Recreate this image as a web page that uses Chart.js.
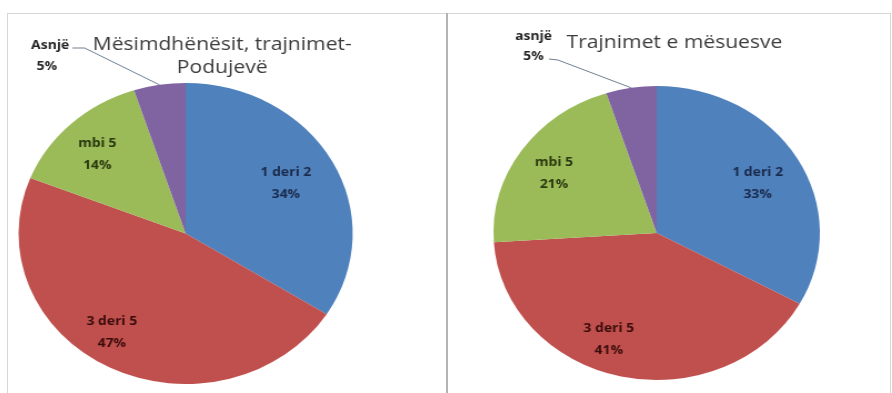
<!DOCTYPE html>
<html>
<head>
<meta charset="utf-8">
<script src="https://cdn.jsdelivr.net/npm/chart.js@4.4.1/dist/chart.umd.min.js"></script>
<style>
body{margin:0;background:#fff;width:892px;height:393px;overflow:hidden;position:relative}
.frame{position:absolute;left:7px;top:13px;width:884px;height:390px;border:1px solid #d6d6d6;box-sizing:border-box}
.divider{position:absolute;left:446px;top:13px;width:2px;height:380px;background:#b4b4b4}
.wrap{position:absolute;top:0;transform-origin:0 0;transform:scaleX(1.11)}
</style>
</head>
<body>
<div class="frame"></div>
<div class="divider"></div>
<div class="wrap" style="left:8px"><canvas id="c1" width="395" height="393"></canvas></div>
<div class="wrap" style="left:448px"><canvas id="c2" width="400" height="393"></canvas></div>
<script>
// data
const labels1 = ['1 deri 2', '3 deri 5', 'mbi 5', 'Asnjë'];
const values1 = [34, 47, 14, 5];
const title1 = ['Mësimdhënësit, trajnimet-', 'Podujevë'];

const labels2 = ['1 deri 2', '3 deri 5', 'mbi 5', 'asnjë'];
const values2 = [33, 41, 21, 5];
const title2 = ['Trajnimet e mësuesve'];

const sliceColors = ['#4F81BD', '#C0504D', '#9BBB59', '#8064A2'];
const textColors = ['#1b2b4c', '#3a0d0c', '#2a380f', '#262626'];

// draws the slice labels, the leader line and the title
const pieText = {
    id: 'pieText',
    afterDatasetsDraw(chart, args, opts) {
        const ctx = chart.ctx;
        const meta = chart.getDatasetMeta(0);
        const data = chart.data.datasets[0].data;
        const total = data.reduce((a, b) => a + b, 0);
        ctx.save();
        ctx.textAlign = 'center';
        ctx.textBaseline = 'middle';
        ctx.font = 'bold 12.5px "Open Sans"';
        meta.data.forEach((arc, i) => {
            const p = arc.getProps(['x', 'y', 'startAngle', 'endAngle', 'outerRadius'], true);
            const mid = (p.startAngle + p.endAngle) / 2;
            const pct = Math.round(data[i] / total * 100) + '%';
            const name = chart.data.labels[i];
            ctx.fillStyle = textColors[i];
            if (i < 3) {
                // label position: fraction of radius + small angle nudge (deg)
                const r = opts.place[i][0] * p.outerRadius;
                const a = mid + opts.place[i][1] * Math.PI / 180;
                const tx = p.x + Math.cos(a) * r;
                const ty = p.y + Math.sin(a) * r;
                ctx.fillText(name, tx, ty - 11);
                ctx.fillText(pct, tx, ty + 11);
            } else {
                const o = opts.outside;
                ctx.fillText(name, o.name[0], o.name[1]);
                ctx.fillText(pct, o.pct[0], o.pct[1]);
                ctx.strokeStyle = '#6f7f90';
                ctx.lineWidth = 1;
                ctx.beginPath();
                ctx.moveTo(o.line[0], o.line[1]);
                ctx.lineTo(o.line[2], o.line[3]);
                ctx.lineTo(p.x + Math.cos(mid) * p.outerRadius, p.y + Math.sin(mid) * p.outerRadius);
                ctx.stroke();
            }
        });
        ctx.font = '19px "Open Sans"';
        ctx.fillStyle = '#3c3c3c';
        opts.title.forEach((t, k) => {
            ctx.fillText(t, opts.titlePos[0], opts.titlePos[1] + k * 23);
        });
        ctx.restore();
    }
};

function makePie(id, labels, values, title, pad, textOpts) {
    return new Chart(document.getElementById(id), {
        type: 'pie',
        data: {
            labels: labels,
            datasets: [{
                data: values,
                backgroundColor: sliceColors,
                borderWidth: 0
            }]
        },
        options: {
            responsive: false,
            animation: false,
            layout: { padding: pad },
            plugins: {
                legend: { display: false },
                tooltip: { enabled: false },
                pieText: Object.assign({ title: title }, textOpts)
            }
        },
        plugins: [pieText]
    });
}

makePie('c1', labels1, values1, title1,
    { top: 83, bottom: 9, left: 9, right: 84 },
    {
        place: [[0.685, 0], [0.79, 7], [0.745, -2]],
        titlePos: [193, 45],
        outside: { name: [38, 45], pct: [35, 66], line: [58, 48, 69, 48] }
    });

makePie('c2', labels2, values2, title2,
    { top: 86, bottom: 13, left: 41, right: 65 },
    {
        place: [[0.705, 2], [0.78, 9.5], [0.75, -1.3]],
        titlePos: [204, 43],
        outside: { name: [77, 36], pct: [77, 56], line: [91, 59, 99, 60] }
    });
</script>
</body>
</html>
